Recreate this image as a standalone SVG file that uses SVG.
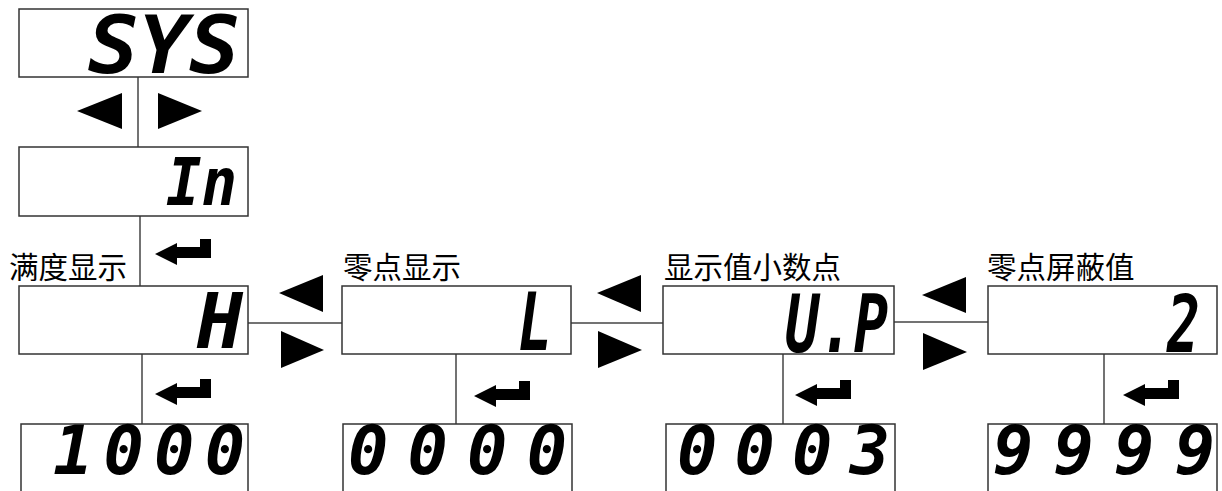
<svg xmlns="http://www.w3.org/2000/svg" width="1222" height="491" viewBox="0 0 1222 491">
<style>
.box{fill:#fff;stroke:#333;stroke-width:1.5}
.ln{stroke:#444;stroke-width:1.5;fill:none}
.seg{font-family:"DejaVu Sans Mono","Liberation Mono",monospace;font-weight:bold;font-style:italic;fill:#000}
.big{font-size:67px}
.lbl{font-family:"Liberation Serif","Noto Sans CJK SC",serif;font-size:29.5px;fill:#000}
.tri{fill:#000}
</style>
<defs>
<g id="enter"><path d="M0,15 L22,4 L22,8 L45,8 L45,0 L56,0 L56,19 L22,19 L22,26 Z" fill="#000"/></g>
</defs>
<g id="connectors">
<line class="ln" x1="138" y1="77" x2="138" y2="147"/>
<line class="ln" x1="140" y1="216" x2="140" y2="286"/>
<line class="ln" x1="142" y1="354" x2="142" y2="424"/>
<line class="ln" x1="248" y1="323" x2="342" y2="323"/>
<line class="ln" x1="456" y1="354" x2="456" y2="424"/>
<line class="ln" x1="571" y1="323" x2="663" y2="323"/>
<line class="ln" x1="783" y1="354" x2="783" y2="424"/>
<line class="ln" x1="894" y1="322" x2="988" y2="322"/>
<line class="ln" x1="1104" y1="354" x2="1104" y2="424"/>
<polygon class="tri" points="77,111 122,93 122,129"/>
<polygon class="tri" points="202,111 158,93 158,129"/>
<polygon class="tri" points="279,293 323,275 323,312"/>
<polygon class="tri" points="324,350 281,331 281,368"/>
<polygon class="tri" points="597,293 641,275 641,312"/>
<polygon class="tri" points="642,350 598,331 598,368"/>
<polygon class="tri" points="922,295 966,277 966,313"/>
<polygon class="tri" points="967,352 923,333 923,370"/>
<use href="#enter" x="155" y="239"/>
<use href="#enter" x="155" y="379"/>
<use href="#enter" x="474" y="381"/>
<use href="#enter" x="795" y="380"/>
<use href="#enter" x="1123" y="380"/>
</g>
<g id="node-sys">
<rect class="box" x="19" y="9" width="229" height="68"/>
<text class="seg" x="88" y="73" font-size="80" textLength="152" lengthAdjust="spacingAndGlyphs">SYS</text>
</g>
<g id="node-in">
<rect class="box" x="19" y="147" width="229" height="69"/>
<text class="seg" x="166" y="205" font-size="66" textLength="71" lengthAdjust="spacingAndGlyphs">In</text>
</g>
<g id="node-h">
<text class="lbl" x="9" y="278">满度显示</text>
<rect class="box" x="19" y="286" width="229" height="68"/>
<text class="seg" x="197" y="348" font-size="77" textLength="46" lengthAdjust="spacingAndGlyphs">H</text>
</g>
<g id="node-h-val">
<rect class="box" x="21" y="424" width="227" height="80"/>
<text class="seg big" x="53" y="474" textLength="192" lengthAdjust="spacing">1000</text>
</g>
<g id="node-l">
<text class="lbl" x="343" y="278">零点显示</text>
<rect class="box" x="342" y="286" width="229" height="68"/>
<text class="seg" x="518" y="350" font-size="80" textLength="34" lengthAdjust="spacingAndGlyphs">L</text>
</g>
<g id="node-l-val">
<rect class="box" x="343" y="424" width="229" height="80"/>
<text class="seg big" x="348" y="474" textLength="219" lengthAdjust="spacing">0000</text>
</g>
<g id="node-up">
<text class="lbl" x="664" y="278">显示值小数点</text>
<rect class="box" x="663" y="286" width="231" height="68"/>
<text class="seg" x="785" y="352" font-size="80" textLength="103" lengthAdjust="spacingAndGlyphs">U.P</text>
</g>
<g id="node-up-val">
<rect class="box" x="666" y="424" width="229" height="80"/>
<text class="seg big" x="677" y="474" textLength="213" lengthAdjust="spacing">0003</text>
</g>
<g id="node-2">
<text class="lbl" x="987" y="278">零点屏蔽值</text>
<rect class="box" x="988" y="286" width="229" height="68"/>
<text class="seg" x="1167" y="352" font-size="80" textLength="33" lengthAdjust="spacingAndGlyphs">2</text>
</g>
<g id="node-2-val">
<rect class="box" x="988" y="424" width="229" height="80"/>
<text class="seg big" x="993" y="474" textLength="222" lengthAdjust="spacing">9999</text>
</g>
</svg>
